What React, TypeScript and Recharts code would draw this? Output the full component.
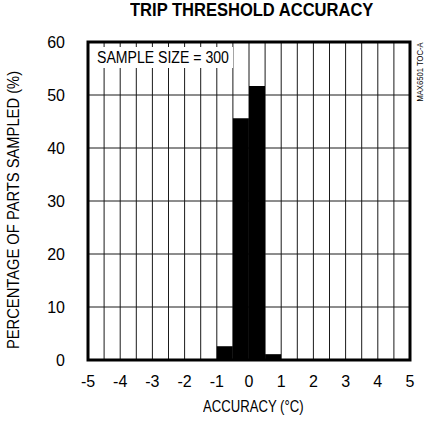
import React from 'react';
import {
  BarChart,
  Bar,
  XAxis,
  YAxis,
  CartesianGrid,
  ReferenceArea,
} from 'recharts';

// bin start (°C), each bin is 0.5°C wide
const binStarts = [
  -5, -4.5, -4, -3.5, -3, -2.5, -2, -1.5, -1, -0.5,
  0, 0.5, 1, 1.5, 2, 2.5, 3, 3.5, 4, 4.5,
];
const BIN_WIDTH = 0.5;
// percentage of parts sampled in each bin
const percents = [
  0, 0, 0, 0, 0, 0, 0, 0, 2.6, 45.6,
  51.7, 1.1, 0, 0, 0, 0, 0, 0, 0, 0,
];
const gridTicks = [
  -5, -4.5, -4, -3.5, -3, -2.5, -2, -1.5, -1, -0.5, 0,
  0.5, 1, 1.5, 2, 2.5, 3, 3.5, 4, 4.5, 5,
];
const yTicks = [0, 10, 20, 30, 40, 50, 60];

const data = binStarts.map((b, i) => ({ x: b + BIN_WIDTH / 2, pct: percents[i] }));

const FONT = '"Liberation Sans", Arial, sans-serif';

const fmtX = (v: number) => (Number.isInteger(v) ? String(v) : '');

const narrow = (sx: number): React.CSSProperties => ({
  transform: `scaleX(${sx})`,
  transformOrigin: 'left center',
  whiteSpace: 'nowrap',
});

export default function App() {
  return (
    <div
      style={{
        position: 'absolute',
        left: 0,
        top: 0,
        width: 426,
        height: 424,
        background: '#fff',
        fontFamily: FONT,
        color: '#000',
        overflow: 'hidden',
      }}
    >
      <BarChart
        width={426}
        height={424}
        data={data}
        barCategoryGap={0}
        barGap={0}
        margin={{ top: 42, right: 16, bottom: 0, left: 58 }}
      >
        <CartesianGrid stroke="#1a1a1a" strokeWidth={1} />
        <XAxis
          dataKey="x"
          type="number"
          domain={[-5, 5]}
          ticks={gridTicks}
          tickFormatter={fmtX}
          interval={0}
          axisLine={false}
          tickLine={false}
          tickMargin={10}
          height={64}
          tick={{ fill: '#000', fontSize: 16, fontFamily: FONT }}
        />
        <YAxis
          domain={[0, 60]}
          ticks={yTicks}
          width={30}
          axisLine={false}
          tickLine={false}
          tickMargin={17}
          tick={{ fill: '#000', fontSize: 16, fontFamily: FONT }}
        />
        <Bar dataKey="pct" fill="#000" isAnimationActive={false} />
        <ReferenceArea
          x1={-5}
          x2={5}
          y1={0}
          y2={60}
          fill="none"
          stroke="#000"
          strokeWidth={3}
          ifOverflow="visible"
        />
      </BarChart>

      <div
        style={{
          position: 'absolute',
          left: 130,
          top: 0,
          fontSize: 19,
          lineHeight: '19px',
          fontWeight: 900,
          ...narrow(0.87),
        }}
      >
        TRIP THRESHOLD ACCURACY
      </div>

      <div
        style={{
          position: 'absolute',
          left: 92,
          top: 47,
          width: 141,
          height: 21,
          background: '#fff',
        }}
      />
      <div
        style={{
          position: 'absolute',
          left: 97,
          top: 48,
          fontSize: 16,
          lineHeight: '19px',
          ...narrow(0.88),
        }}
      >
        SAMPLE SIZE = 300
      </div>

      <div
        style={{
          position: 'absolute',
          left: 203,
          top: 398,
          fontSize: 16,
          lineHeight: '18px',
          ...narrow(0.82),
        }}
      >
        ACCURACY (°C)
      </div>

      <div
        style={{
          position: 'absolute',
          left: 14,
          top: 210,
          width: 0,
          height: 0,
        }}
      >
        <div
          style={{
            position: 'absolute',
            left: 0,
            top: 0,
            fontSize: 16,
            lineHeight: '18px',
            whiteSpace: 'nowrap',
            transform: 'translate(-50%, -50%) rotate(-90deg) scaleX(0.92)',
          }}
        >
          PERCENTAGE OF PARTS SAMPLED (%)
        </div>
      </div>

      <div
        style={{
          position: 'absolute',
          left: 420,
          top: 72,
          width: 0,
          height: 0,
        }}
      >
        <div
          style={{
            position: 'absolute',
            left: 0,
            top: 0,
            fontSize: 9,
            lineHeight: '10px',
            whiteSpace: 'nowrap',
            transform: 'translate(-50%, -50%) rotate(-90deg) scaleX(0.85)',
          }}
        >
          MAX6501 TOC-A
        </div>
      </div>
    </div>
  );
}
